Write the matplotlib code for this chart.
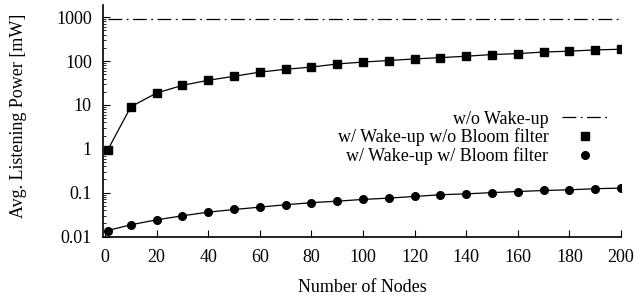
import matplotlib
matplotlib.use("Agg")
import matplotlib.pyplot as plt
from matplotlib.ticker import FixedLocator, FixedFormatter, LogLocator, NullFormatter

plt.rcParams['font.family'] = ['Liberation Serif', 'DejaVu Serif']
plt.rcParams['mathtext.fontset'] = 'stix'

nodes = [1, 10, 20, 30, 40, 50, 60, 70, 80, 90, 100, 110, 120, 130, 140, 150, 160, 170, 180, 190, 200]
no_wakeup = [930] * len(nodes)
wakeup_no_bloom = [0.93, 9.1, 18.7, 28, 36.5, 45, 56, 65, 73, 86, 95, 103, 112, 120, 129, 141, 148, 161, 168, 180, 186]
wakeup_bloom = [0.0137, 0.0185, 0.024, 0.0297, 0.0359, 0.0413, 0.0467, 0.053, 0.059, 0.064, 0.070,
                0.075, 0.082, 0.0895, 0.094, 0.100, 0.106, 0.112, 0.116, 0.123, 0.127]

labels = ["w/o Wake-up", "w/ Wake-up w/o Bloom filter", "w/ Wake-up w/ Bloom filter"]
xticks = [0, 20, 40, 60, 80, 100, 120, 140, 160, 180, 200]
yticks = [0.01, 0.1, 1, 10, 100, 1000]
ytick_labels = ["0.01", "0.1", "1", "10", "100", "1000"]

fig = plt.figure(figsize=(6.38, 2.95), dpi=100)
ax = fig.add_axes([103/638, 1 - 236.5/295, (621 - 103)/638, (236.5 - 5)/295])

fs = 13
ax.plot([nodes[0], nodes[-1]], [no_wakeup[0], no_wakeup[-1]], color='black', lw=0.9,
        dashes=(11, 3.6, 1.4, 3.6))
ax.plot(nodes, wakeup_no_bloom, color='black', lw=0.9)
ax.plot(nodes, wakeup_bloom, color='black', lw=0.9)
ax.plot(nodes, wakeup_no_bloom, ls='none', marker='s', color='black', ms=5.5)
ax.plot(nodes, wakeup_bloom, ls='none', marker='o', color='black', ms=5.5)

# legend proxies
h1, = ax.plot([], [], color='black', lw=0.9, dashes=(11, 3.6, 1.4, 3.6))
h2, = ax.plot([], [], ls='none', marker='s', color='black', ms=5.5)
h3, = ax.plot([], [], ls='none', marker='o', color='black', ms=5.5)
ax.legend([h1, h2, h3], labels, loc='upper right',
          bbox_to_anchor=(608/638, 1 - 110.5/295), bbox_transform=fig.transFigure,
          frameon=False, markerfirst=False, fontsize=fs, borderpad=0, borderaxespad=0,
          handlelength=2.55, handletextpad=0.75, labelspacing=0.05)

ax.set_yscale('log')
ax.set_ylim(0.01, 1900)
ax.set_xlim(-0.8, 200)
ax.yaxis.set_major_locator(FixedLocator(yticks))
ax.yaxis.set_major_formatter(FixedFormatter(ytick_labels))
ax.yaxis.set_minor_locator(LogLocator(base=10, subs=range(2, 10)))
ax.yaxis.set_minor_formatter(NullFormatter())
ax.set_xticks(xticks)

for s in ['top', 'right']:
    ax.spines[s].set_visible(False)
for s in ['left', 'bottom']:
    ax.spines[s].set_linewidth(1.2)

ax.tick_params(axis='both', which='major', direction='in', length=5, width=0.8, labelsize=fs)
ax.tick_params(axis='x', which='major', pad=9)
ax.tick_params(axis='y', which='major', pad=8)
ax.tick_params(axis='y', which='minor', direction='in', length=2.5, width=0.6)

ax.set_xlabel("Number of Nodes", fontsize=fs, labelpad=9)
ax.set_ylabel("Avg. Listening Power [mW]", fontsize=fs)
ax.yaxis.set_label_coords((27 - 103) / 518, (236.5 - 116) / 231.5, transform=ax.transAxes)

fig.savefig("out.png", dpi=100)
